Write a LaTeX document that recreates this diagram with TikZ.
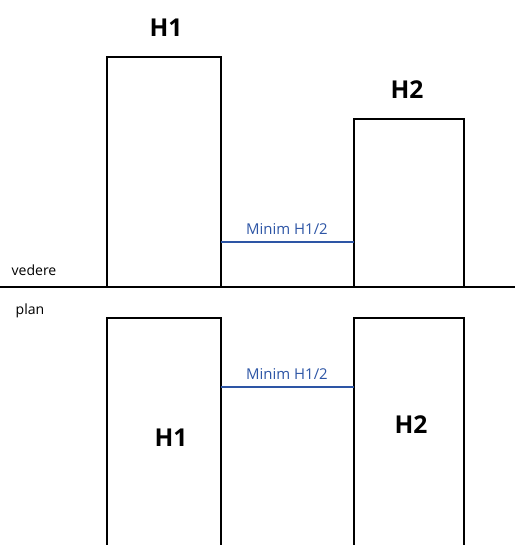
\documentclass[tikz,border=0pt]{standalone}
\usepackage{fontspec}
\setmainfont{Open Sans}
\definecolor{minblue}{RGB}{45,85,165}
\begin{document}
\begin{tikzpicture}[x=0.02cm,y=-0.02cm]

                \tikzset{building/.style = {draw=black,line width=0.8pt}}
                \tikzset{ground/.style = {draw=black,line width=1.6pt}}
                \tikzset{gap/.style = {draw=minblue,line width=0.8pt}}
                \tikzset{tag/.style = {font=\bfseries\fontsize{14}{16}\selectfont}}
                \tikzset{small/.style = {font=\fontsize{8}{9}\selectfont}}
                \tikzset{gaplabel/.style = {font=\fontsize{8.5}{10}\selectfont,text=minblue,anchor=south}}
                \useasboundingbox (0,0) rectangle (515,545);

                % vedere
                \draw[building] (107,287) rectangle (221,57);
                \draw[building] (354,287) rectangle (464,119);
                \draw[ground] (0,287) -- (515,287);
                \node[tag] (h1v) at (166,28) {H1};
                \node[tag] (h2v) at (407,90) {H2};
                \coordinate (va) at (221,242);
                \coordinate (vb) at (354,242);
                \draw[gap] (va) -- (vb);
                \node[gaplabel] (mv) at (287,241) {Minim H1/2};
                \node[small] (vedere) at (34,270) {vedere};

                % plan
                \node[small] (plan) at (30,311) {plan};
                \draw[building] (107,545) -- (107,318) -- (221,318) -- (221,545);
                \draw[building] (354,545) -- (354,318) -- (464,318) -- (464,545);
                \node[tag] (h1p) at (171,438) {H1};
                \node[tag] (h2p) at (411,425) {H2};
                \coordinate (pa) at (221,387);
                \coordinate (pb) at (354,387);
                \draw[gap] (pa) -- (pb);
                \node[gaplabel] (mp) at (287,386) {Minim H1/2};

            \end{tikzpicture}
\end{document}
